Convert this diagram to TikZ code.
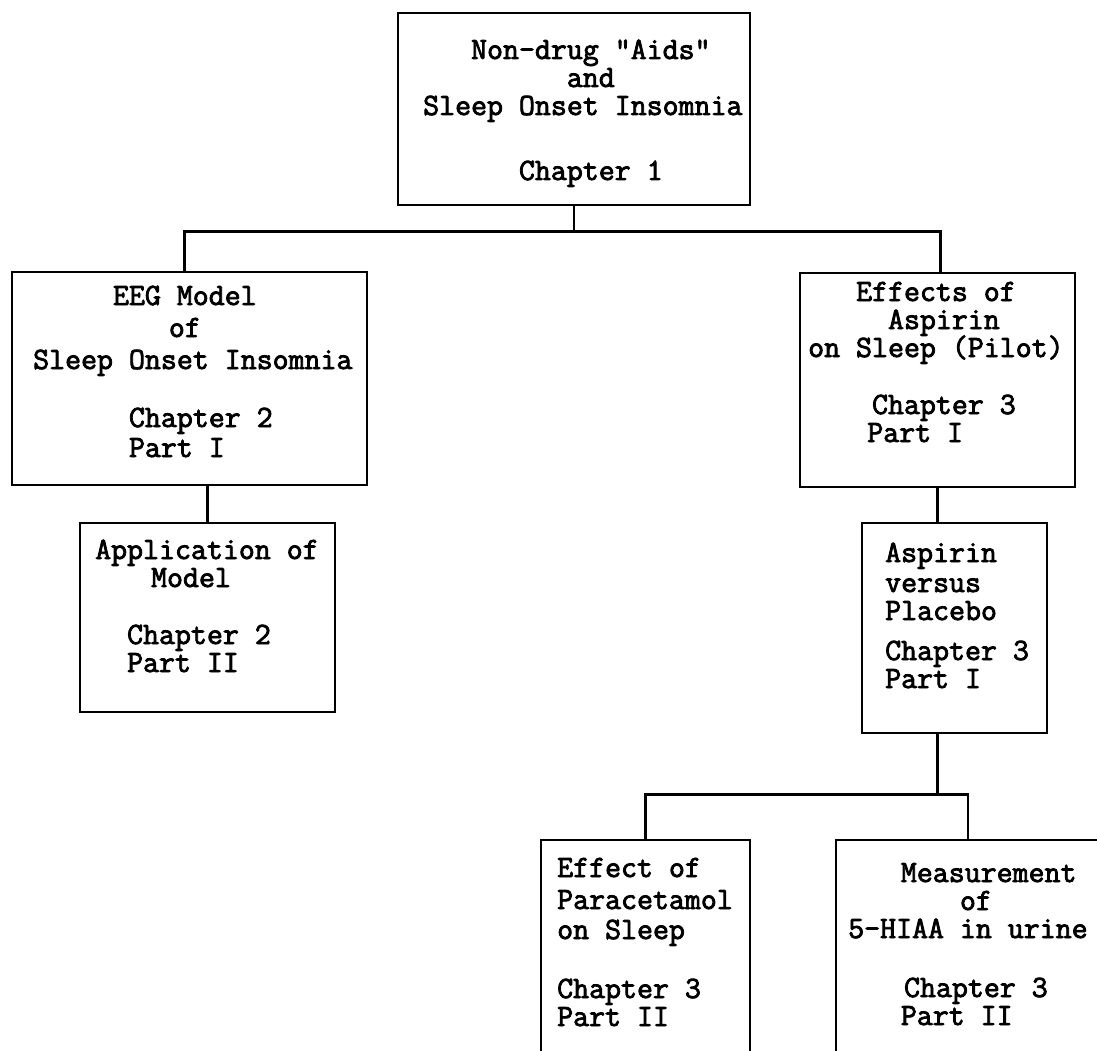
\documentclass[tikz,border=0pt]{standalone}
\usepackage{fontspec}
\setmonofont{Latin Modern Mono}[BoldFont=Latin Modern Mono, BoldFeatures={FakeBold=2.6}]
\newcommand\ind[1]{\hspace*{#1\fontcharwd\font`0}}
\tikzset{
  box/.style={draw, line width=2.8pt, rectangle, inner sep=0pt},
  conn/.style={line width=2.8pt},
  txt/.style={inner sep=0pt, anchor=base west,
    font=\fontsize{31}{28}\selectfont\ttfamily\bfseries}
}
\newcommand\lines[1]{\parbox[t]{380pt}{\lineskiplimit=-60pt\raggedright #1}}
\begin{document}
\begin{tikzpicture}[x=1pt,y=1pt]
\useasboundingbox (0,0) rectangle (1097,-1051);
\clip (0,0) rectangle (1097,-1051);
\fill[white] (0,0) rectangle (1097,-1051);

% boxes
\node[box, minimum width=352pt, minimum height=192pt] (top) at (574,-109) {};
\node[box, minimum width=355pt, minimum height=213pt] (eeg) at (189.5,-378.5) {};
\node[box, minimum width=275pt, minimum height=214pt] (effects) at (937.5,-380) {};
\node[box, minimum width=255pt, minimum height=189pt] (app) at (207.5,-617.5) {};
\node[box, minimum width=185pt, minimum height=210pt] (aspirin) at (954.5,-628) {};
\node[box, minimum width=209pt, minimum height=240pt] (para) at (645.5,-960) {};
\node[box, minimum width=264pt, minimum height=240pt] (meas) at (968,-960) {};

% texts
\node[txt] (toptxt) at (423,-59) {\lines{\ind{3}Non-drug "Aids"\\ \ind{9}and\\ Sleep Onset Insomnia\\[37pt] \ind{6}Chapter 1}};
\node[txt] (eegtxt) at (33,-305) {\lines{\ind{5}EEG Model\\[4pt] \ind{8.5}of\\[4pt] Sleep Onset Insomnia\\[30pt] \ind{6}Chapter 2\\[2pt] \ind{6}Part I}};
\node[txt] (efftxt) at (808,-301) {\lines{\ind{3}Effects of\\ \ind{5}Aspirin\\ on Sleep (Pilot)\\[29pt] \ind{4}Chapter 3\\ \ind{3.7}Part I}};
\node[txt] (apptxt) at (95,-559) {\lines{Application of\\ \ind{3.5}Model\\[29pt] \ind{2}Chapter 2\\ \ind{2}Part II}};
\node[txt] (asptxt) at (885,-562) {\lines{Aspirin\\[2pt] versus\\ Placebo\\[12pt] Chapter 3\\ Part I}};
\node[txt] (paratxt) at (557,-877) {\lines{Effect of\\[4pt] Paracetamol\\[2pt] on Sleep\\[31pt] Chapter 3\\ Part II}};
\node[txt] (meastxt) at (848,-882) {\lines{\ind{3.3}Measurement\\ \ind{7}of\\ 5-HIAA in urine\\[31pt] \ind{3.5}Chapter 3\\ \ind{3.3}Part II}};

% connectors
\draw[conn] (top.south) -- ++(0,-25) coordinate (j1);
\draw[conn] ([xshift=-5pt]eeg.north) |- (j1) -| ([xshift=3pt]effects.north);
\draw[conn] (app.north) -- (app.north |- eeg.south);
\draw[conn] (effects.south) -- (effects.south |- aspirin.north);
\path (effects.south |- aspirin.south) ++(0,-60) coordinate (j2);
\draw[conn] (effects.south |- aspirin.south) -- (j2);
\draw[conn] (para.north) |- (j2) -| (meas.north);
\end{tikzpicture}
\end{document}
